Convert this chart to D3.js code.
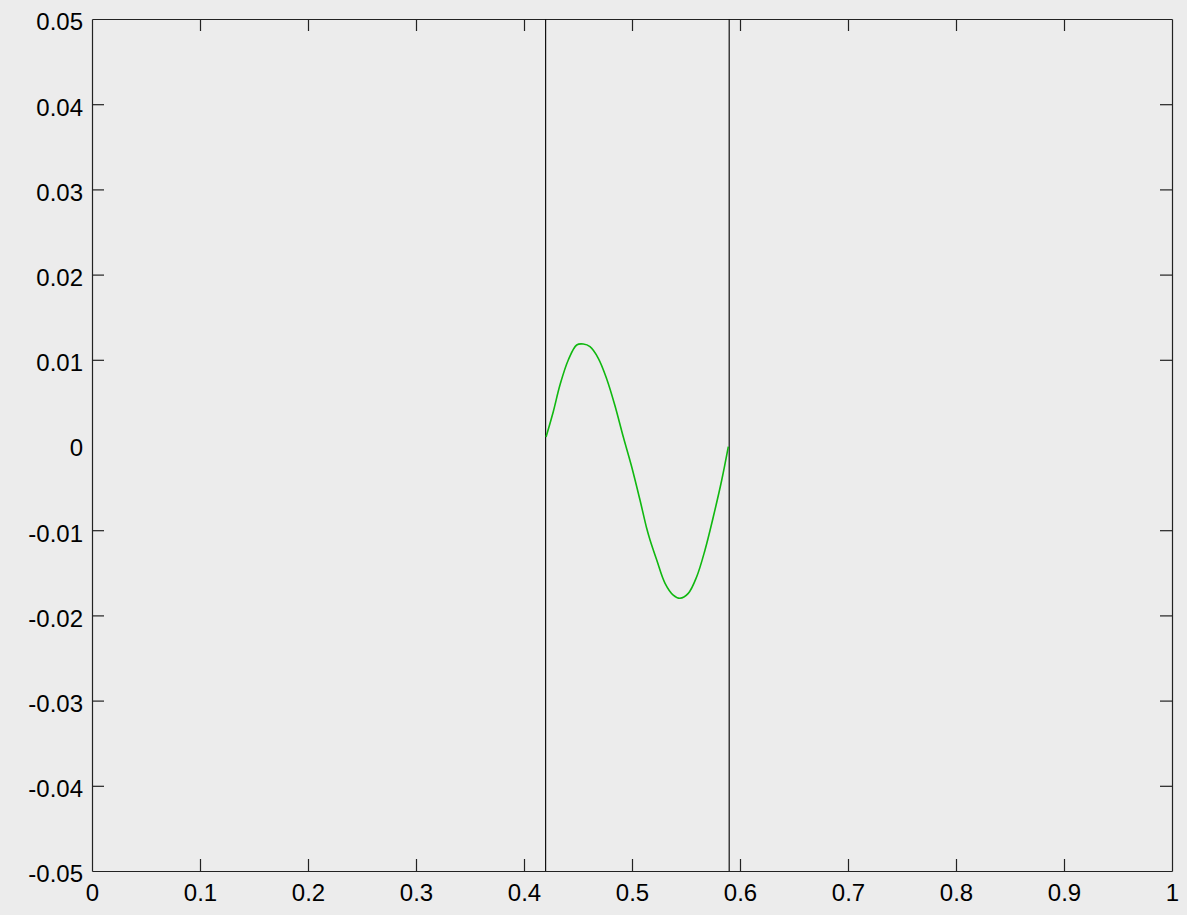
<!doctype html>
<html>
<head>
<meta charset="utf-8"/>
<script src="https://cdnjs.cloudflare.com/ajax/libs/d3/7.8.5/d3.min.js"></script>
<style>
  body { margin: 0; background: #ececec; }
  svg { display: block; }
</style>
</head>
<body>
<svg width="1187" height="915"></svg>
<script>
// data
var xTicks = [0, 0.1, 0.2, 0.3, 0.4, 0.5, 0.6, 0.7, 0.8, 0.9, 1]
var yTicks = [-0.05, -0.04, -0.03, -0.02, -0.01, 0, 0.01, 0.02, 0.03, 0.04, 0.05]
var bounds = [0.42, 0.59]
var curveX = [0.4204, 0.4271, 0.4333, 0.4410, 0.4488, 0.4549, 0.4611, 0.4688, 0.4766, 0.4843,
              0.4919, 0.4997, 0.5074, 0.5136, 0.5167, 0.5229, 0.5306, 0.5382, 0.5444, 0.5521,
              0.5599, 0.5676, 0.5753, 0.5831, 0.5892]
var curveY = [0.00094, 0.00391, 0.00704, 0.00998, 0.01174, 0.01185, 0.01154, 0.01018, 0.00775, 0.00458,
              0.00097, -0.00255, -0.00646, -0.00978, -0.01115, -0.01350, -0.01623, -0.01761, -0.01799, -0.01741,
              -0.01546, -0.01232, -0.00842, -0.00411, -0.00020]

var margin = {left: 92, top: 19, right: 15, bottom: 44}
var w = 1187 - margin.left - margin.right
var h = 915 - margin.top - margin.bottom

var svg = d3.select("svg")
var g = svg.append("g").attr("transform", "translate(" + margin.left + "," + margin.top + ")")

var x = d3.scaleLinear().domain([0, 1]).range([0, w])
var y = d3.scaleLinear().domain([-0.05, 0.05]).range([h, 0])

var fmt = d => String(+d.toFixed(2))

// axes, ticks pointing inward
var bottom = g.append("g").attr("transform", "translate(0," + h + ")")
  .call(d3.axisBottom(x).tickValues(xTicks).tickFormat(fmt).tickSize(-12).tickSizeOuter(0).tickPadding(13))
var left = g.append("g")
  .call(d3.axisLeft(y).tickValues(yTicks).tickFormat(fmt).tickSize(-12).tickSizeOuter(0).tickPadding(9))
left.selectAll("text").attr("dy", "0.45em")
var top = g.append("g")
  .call(d3.axisTop(x).tickValues(xTicks).tickFormat("").tickSize(-12).tickSizeOuter(0))
var right = g.append("g").attr("transform", "translate(" + w + ",0)")
  .call(d3.axisRight(y).tickValues(yTicks).tickFormat("").tickSize(-12).tickSizeOuter(0))

g.selectAll(".domain, .tick line").attr("stroke", "#222").attr("stroke-width", 1.2)
g.selectAll(".tick text").attr("font-size", 24).attr("font-family", "'Liberation Sans', Arial, sans-serif").attr("fill", "#000")
// keep the end ticks on the frame only
g.selectAll(".tick").filter(d => d === 0 || d === 1 || d === 0.05 || d === -0.05).select("line").remove()

// boundary lines
g.selectAll(".bound").data(bounds).enter().append("line")
  .attr("class", "bound")
  .attr("x1", d => x(d)).attr("x2", d => x(d))
  .attr("y1", 0).attr("y2", h)
  .attr("stroke", "#111").attr("stroke-width", 1.2)

// curve
var pts = curveX.map((d, i) => [d, curveY[i]])
g.append("path").datum(pts)
  .attr("fill", "none")
  .attr("stroke", "#10b810")
  .attr("stroke-width", 1.6)
  .attr("d", d3.line().x(d => x(d[0])).y(d => y(d[1])).curve(d3.curveCatmullRom))
</script>
</body>
</html>
